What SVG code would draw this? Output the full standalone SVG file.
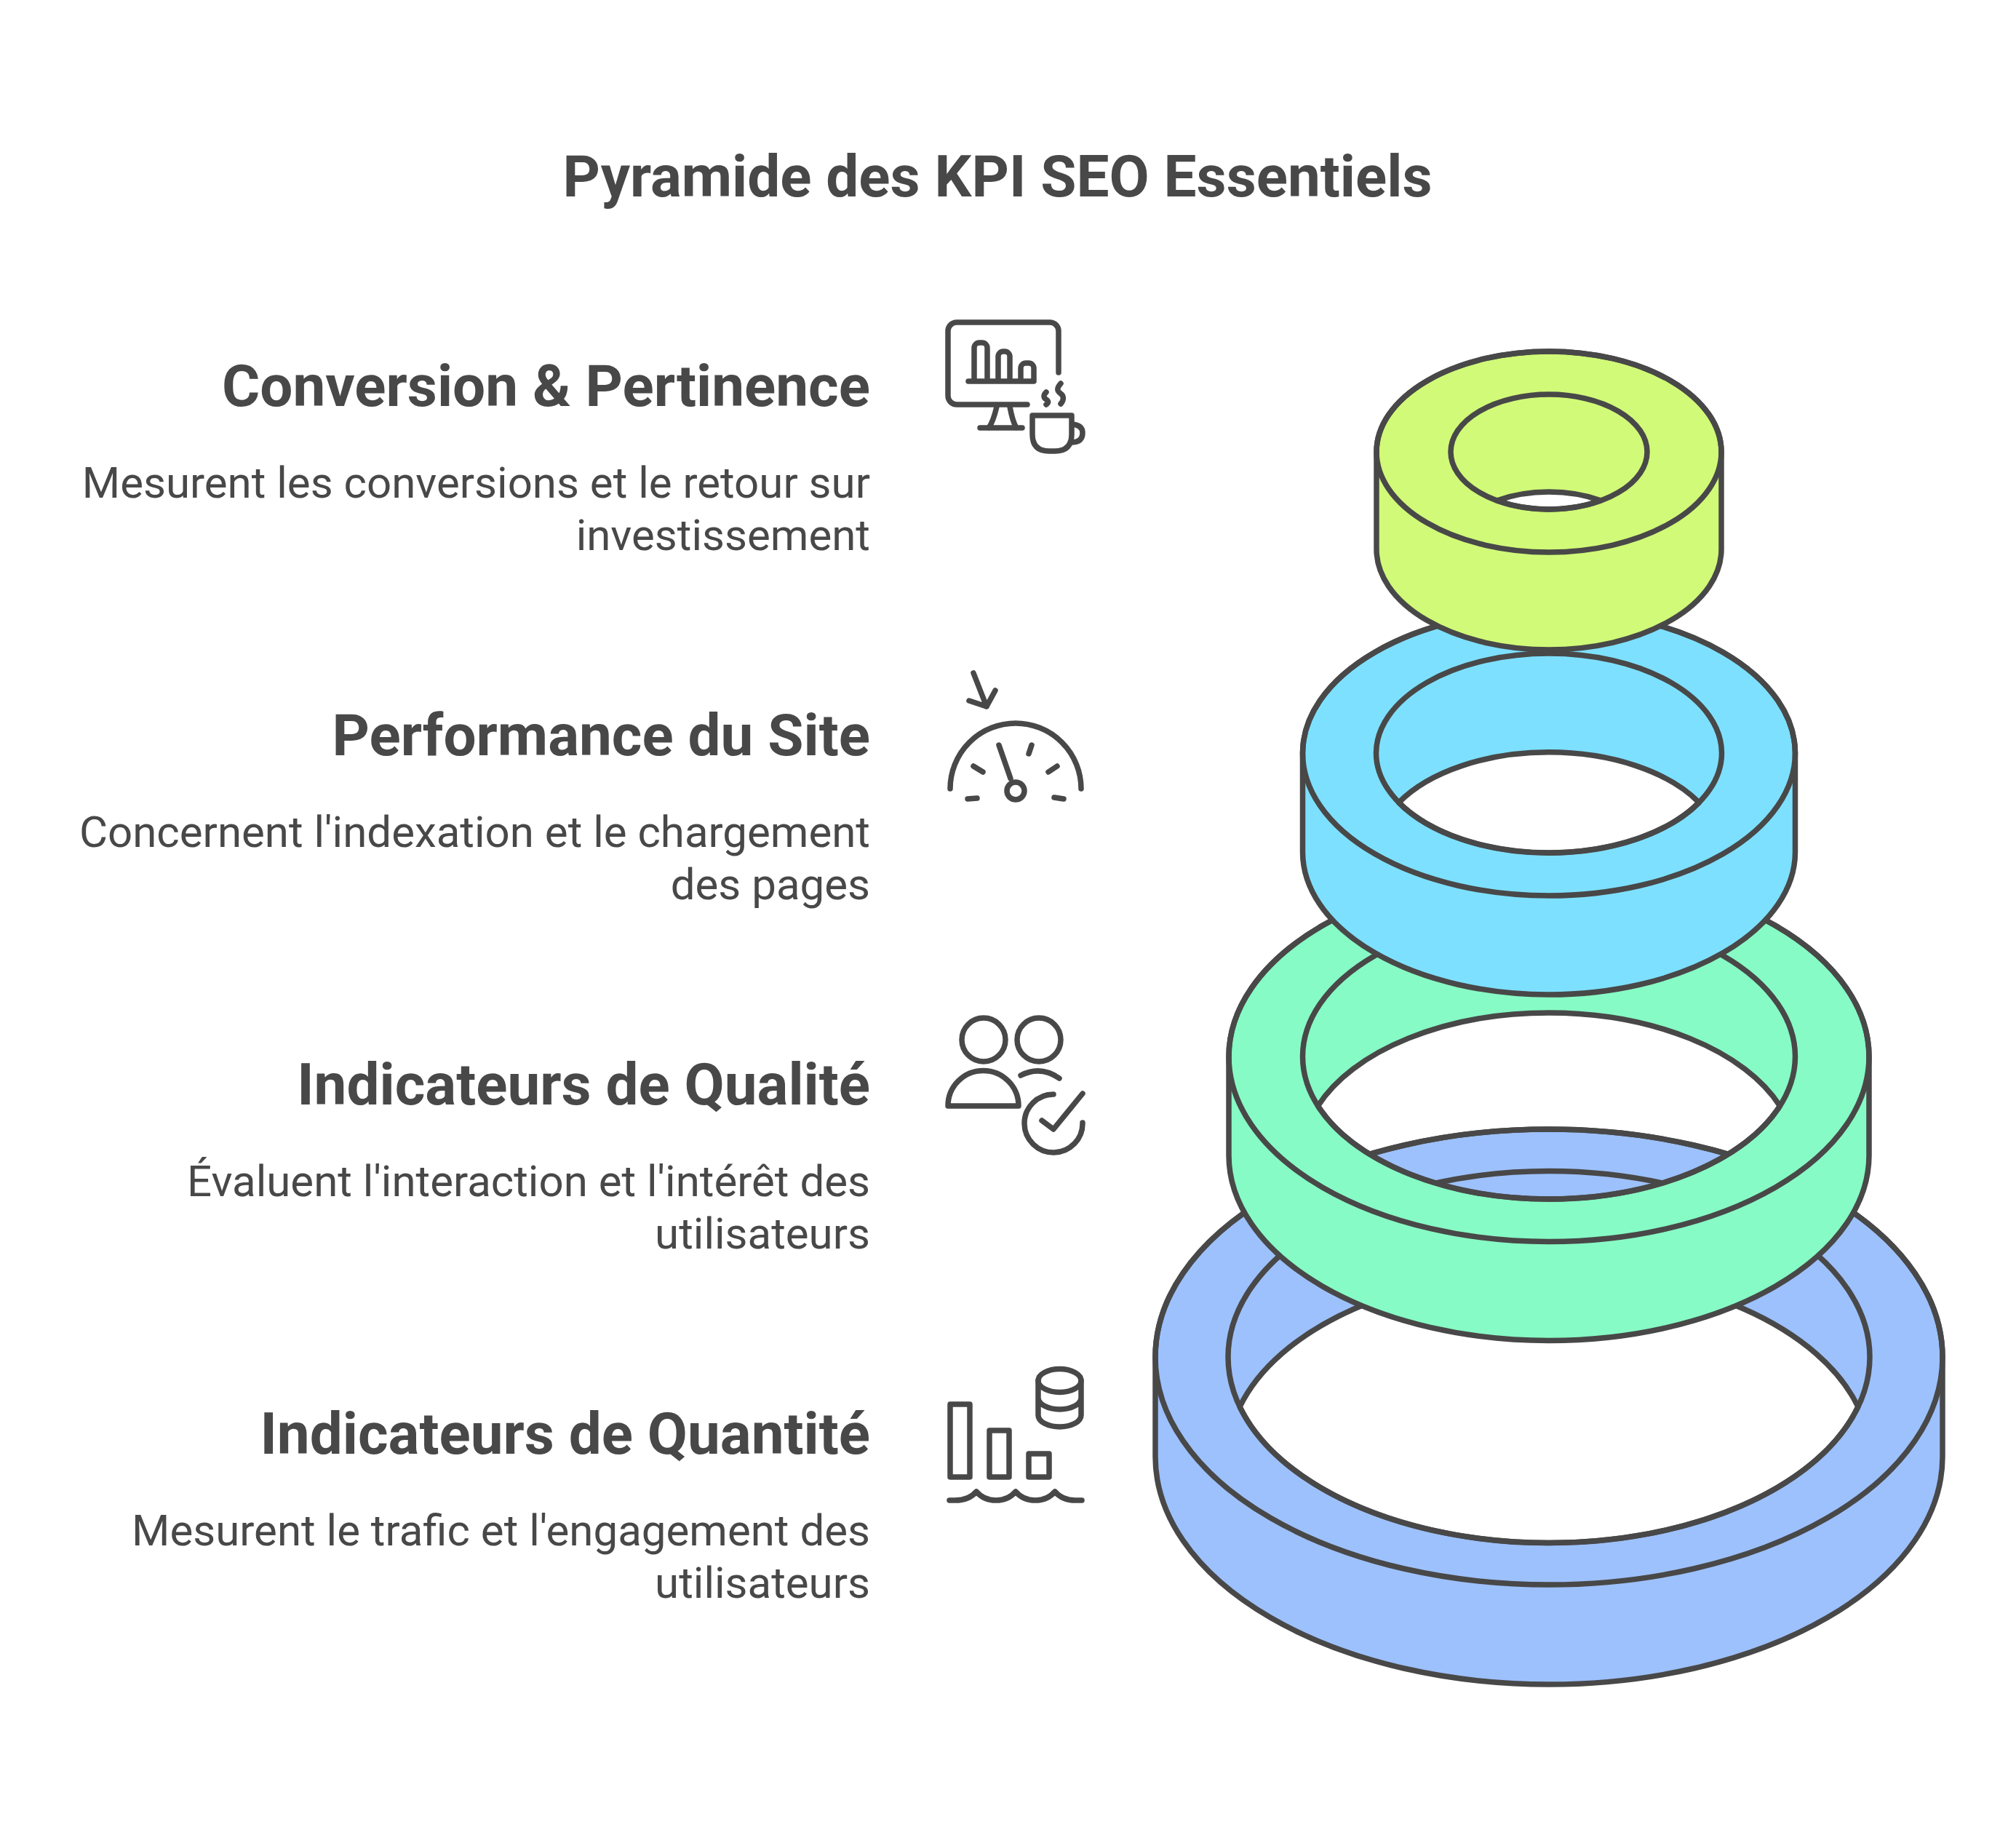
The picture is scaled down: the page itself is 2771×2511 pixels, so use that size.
<svg xmlns="http://www.w3.org/2000/svg" width="2771" height="2511" viewBox="0 0 2771 2511">
<style>
.t{font-family:Roboto,"Liberation Sans",sans-serif;fill:#484848}
.title{font-size:80px;font-weight:700;text-anchor:middle}
.h{font-size:80px;font-weight:700;text-anchor:end}
.b{font-size:60px;font-weight:400;text-anchor:end}
.r{stroke:#484848;stroke-width:7.5;stroke-linejoin:round}
.e{fill:none;stroke:#484848;stroke-width:7.5}
.i{fill:none;stroke:#484848;stroke-width:7.5;stroke-linecap:round;stroke-linejoin:round}
</style>
<rect width="2771" height="2511" fill="#ffffff"/>
<text class="t title" x="1371" y="270">Pyramide des KPI SEO Essentiels</text>

<g id="ring-quantite">
<path class="r" fill="#9DC1FC" fill-rule="evenodd" d="M1588 1865A541 313 0 0 1 2670 1865V2002A541 313 0 0 1 1588 2002ZM1704.1 1933.5A441 255.5 0 0 1 2553.9 1933.5A441 255.5 0 0 1 1704.1 1933.5Z"/>
<ellipse class="e" cx="2129" cy="1865" rx="541" ry="313"/>
<ellipse class="e" cx="2129" cy="1865" rx="441" ry="255.5"/>
</g>
<g id="ring-qualite">
<path class="r" fill="#87FBC5" fill-rule="evenodd" d="M1689 1452A440 254.5 0 0 1 2569 1452V1588A440 254.5 0 0 1 1689 1588ZM1811.5 1520A338.5 196 0 0 1 2446.5 1520A338.5 196 0 0 1 1811.5 1520Z"/>
<ellipse class="e" cx="2129" cy="1452" rx="440" ry="254.5"/>
<ellipse class="e" cx="2129" cy="1452" rx="338.5" ry="196"/>
</g>
<g id="ring-performance">
<path class="r" fill="#7EE0FF" fill-rule="evenodd" d="M1790.5 1035A338.5 196 0 0 1 2467.5 1035V1171A338.5 196 0 0 1 1790.5 1171ZM1922.6 1103A237.5 137 0 0 1 2335.4 1103A237.5 137 0 0 1 1922.6 1103Z"/>
<ellipse class="e" cx="2129" cy="1035" rx="338.5" ry="196"/>
<ellipse class="e" cx="2129" cy="1035" rx="237.5" ry="137"/>
</g>
<g id="ring-conversion">
<path class="r" fill="#D1FA78" fill-rule="evenodd" d="M1892 621A237 138 0 0 1 2366 621V755A237 138 0 0 1 1892 755ZM2057.5 688A135 79 0 0 1 2200.5 688A135 79 0 0 1 2057.5 688Z"/>
<ellipse class="e" cx="2129" cy="621" rx="237" ry="138"/>
<ellipse class="e" cx="2129" cy="621" rx="135" ry="79"/>
</g>

<g id="tier-conversion">
<text class="t h" x="1196" y="558">Conversion &amp; Pertinence</text>
<text class="t b" x="1196" y="684">Mesurent les conversions et le retour sur</text>
<text class="t b" x="1196" y="756">investissement</text>
<g id="icon-conversion" class="i">
<path d="M1455 512V455a12 12 0 0 0-12-12H1315a12 12 0 0 0-12 12V544a12 12 0 0 0 12 12H1412"/>
<path d="M1331 524H1421V506a7 7 0 0 0-7-7H1410a7 7 0 0 0-7 7V524M1372 524V490a7 7 0 0 1 7-7H1381a7 7 0 0 1 7 7V524M1339 524V478a7 7 0 0 1 7-7H1350a7 7 0 0 1 7 7V524"/>
<path d="M1370 559Q1365 580 1359 588M1388 559Q1392 580 1397 588M1347 588H1405"/>
<path d="M1438 539C1433 544 1435 547 1438 549S1442 553 1438 556M1458 527C1451 535 1454 538 1458 541S1463 549 1458 555"/>
<path d="M1419 571H1473V597Q1473 620 1450 620H1442Q1419 620 1419 597ZM1473 583Q1488 584 1488 595Q1488 608 1472 608"/>
</g>
</g>

<g id="tier-performance">
<text class="t h" x="1196" y="1038">Performance du Site</text>
<text class="t b" x="1196" y="1164">Concernent l'indexation et le chargement</text>
<text class="t b" x="1196" y="1236">des pages</text>
<g id="icon-performance" class="i">
<path d="M1338 925L1356 971M1332 963L1356 971L1368 949"/>
<path d="M1306 1084a90 90 0 0 1 180 0"/>
<circle cx="1396" cy="1087" r="12"/>
<path d="M1373 1024L1389 1070M1338 1053L1351 1061M1418 1024L1414 1036M1453 1053L1441 1061M1330 1098L1343 1097M1449 1096L1462 1098"/>
</g>
</g>

<g id="tier-qualite">
<text class="t h" x="1196" y="1518">Indicateurs de Qualité</text>
<text class="t b" x="1196" y="1644">Évaluent l'interaction et l'intérêt des</text>
<text class="t b" x="1196" y="1716">utilisateurs</text>
<g id="icon-qualite" class="i">
<circle cx="1352" cy="1429" r="30"/>
<circle cx="1428" cy="1429" r="30"/>
<path d="M1303 1520a48.5 48.5 0 0 1 97 0Z"/>
<path d="M1403 1478Q1430 1464 1456 1482"/>
<path d="M1448 1504A40 40 0 1 0 1488 1543"/>
<path d="M1432 1540L1448 1552L1488 1503"/>
</g>
</g>

<g id="tier-quantite">
<text class="t h" x="1196" y="1998">Indicateurs de Quantité</text>
<text class="t b" x="1196" y="2124">Mesurent le trafic et l'engagement des</text>
<text class="t b" x="1196" y="2196">utilisateurs</text>
<g id="icon-quantite" class="i">
<rect x="1306" y="1930" width="27" height="100"/>
<rect x="1360" y="1966" width="27" height="64"/>
<rect x="1414" y="1998" width="28" height="32"/>
<path d="M1305 2062h8Q1332 2062 1342 2050Q1352 2062 1369 2062Q1386 2062 1396 2050Q1406 2062 1423 2062Q1440 2062 1450 2050Q1460 2062 1478 2062H1487"/>
<ellipse cx="1456.5" cy="1897.5" rx="29.5" ry="16"/>
<path d="M1427 1897V1945a29.5 16 0 0 0 59 0V1897M1427 1921a29.5 16 0 0 0 59 0"/>
</g>
</g>
</svg>
